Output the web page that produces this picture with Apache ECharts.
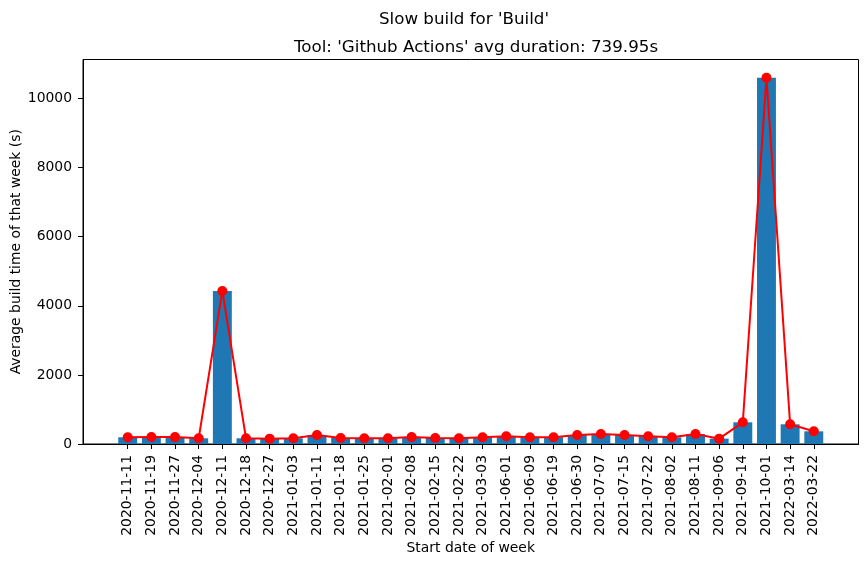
<!DOCTYPE html>
<html>
<head>
<meta charset="utf-8">
<script src="https://cdn.jsdelivr.net/npm/echarts@6/dist/echarts.min.js"></script>
<style>html,body{margin:0;padding:0;background:#fff}#c{width:868px;height:564px}</style>
</head>
<body>
<div id="c"></div>
<script>
const categories = ['2020-11-11','2020-11-19','2020-11-27','2020-12-04','2020-12-11','2020-12-18','2020-12-27','2021-01-03','2021-01-11','2021-01-18','2021-01-25','2021-02-01','2021-02-08','2021-02-15','2021-02-22','2021-03-03','2021-06-01','2021-06-09','2021-06-19','2021-06-30','2021-07-07','2021-07-15','2021-07-22','2021-08-02','2021-08-11','2021-09-06','2021-09-14','2021-10-01','2022-03-14','2022-03-22'];
const durations = [195,205,200,165,4430,165,155,165,260,175,165,165,200,175,165,195,222,195,195,260,290,260,222,195,290,155,628,10600,570,367];
const yTicks = [0,2000,4000,6000,8000,10000];
const titleText = "Slow build for 'Build'";
const subtitleText = "Tool: 'Github Actions' avg duration: 739.95s";

const font = 'DejaVu Sans';
const idx = categories.map((_, i) => i);
const BAR_FRAC = 0.8;
const chart = echarts.init(document.getElementById('c'), null, {renderer: 'canvas'});
chart.setOption({
  animation: false,
  backgroundColor: '#fff',
  textStyle: {fontFamily: font, color: '#000'},
  title: [
    {text: titleText, left: 459, top: 6, textAlign: 'center',
     textStyle: {fontFamily: font, fontSize: 16.7, fontWeight: 'normal', color: '#000'}},
    {text: subtitleText, left: 471, top: 34, textAlign: 'center',
     textStyle: {fontFamily: font, fontSize: 16.7, fontWeight: 'normal', color: '#000'}}
  ],
  grid: {left: 83, right: 9.5, top: 59.5, bottom: 120, containLabel: false, outerBoundsMode: 'none',
         show: true, borderColor: '#000', borderWidth: 1, backgroundColor: 'transparent'},
  xAxis: {
    type: 'value', min: -1.89, max: 30.89,
    name: 'Start date of week', nameLocation: 'middle', nameGap: 97, nameMoveOverlap: false,
    nameTextStyle: {fontFamily: font, fontSize: 13.9, color: '#000'},
    splitLine: {show: false},
    axisLine: {show: true, onZero: false, lineStyle: {color: '#000', width: 1}},
    axisTick: {show: true, length: 5, lineStyle: {color: '#000'}, customValues: idx},
    axisLabel: {show: true, customValues: idx, rotate: 90, margin: 11, fontFamily: font, fontSize: 13.9, color: '#000',
      formatter: v => categories[Math.round(v)]}
  },
  yAxis: {
    type: 'value', min: 0, max: 11130,
    name: 'Average build time of that week (s)', nameLocation: 'middle', nameGap: 60, nameMoveOverlap: false,
    nameTextStyle: {fontFamily: font, fontSize: 13.9, color: '#000'},
    splitLine: {show: false},
    axisLine: {show: true, onZero: false, lineStyle: {color: '#000', width: 1}},
    axisTick: {show: true, length: 5, lineStyle: {color: '#000'}, customValues: yTicks},
    axisLabel: {show: true, customValues: yTicks, margin: 11, fontFamily: font, fontSize: 13.9, color: '#000',
      formatter: v => String(v)}
  },
  series: [
    {type: 'custom', data: durations.map((v, i) => [i, v]),
     renderItem: function (params, api) {
       const x = api.value(0), v = api.value(1);
       const top = api.coord([x, v]);
       const base = api.coord([x, 0]);
       const w = api.size([BAR_FRAC, 0])[0];
       return {type: 'rect', shape: {x: top[0] - w / 2, y: top[1], width: w, height: base[1] - top[1]},
               style: {fill: '#1f77b4'}};
     }, z: 2},
    {type: 'line', data: durations.map((v, i) => [i, v]), symbol: 'circle', symbolSize: 10, showSymbol: true,
     lineStyle: {color: '#ff0000', width: 2}, itemStyle: {color: '#ff0000'}, z: 5}
  ]
});
</script>
</body>
</html>
